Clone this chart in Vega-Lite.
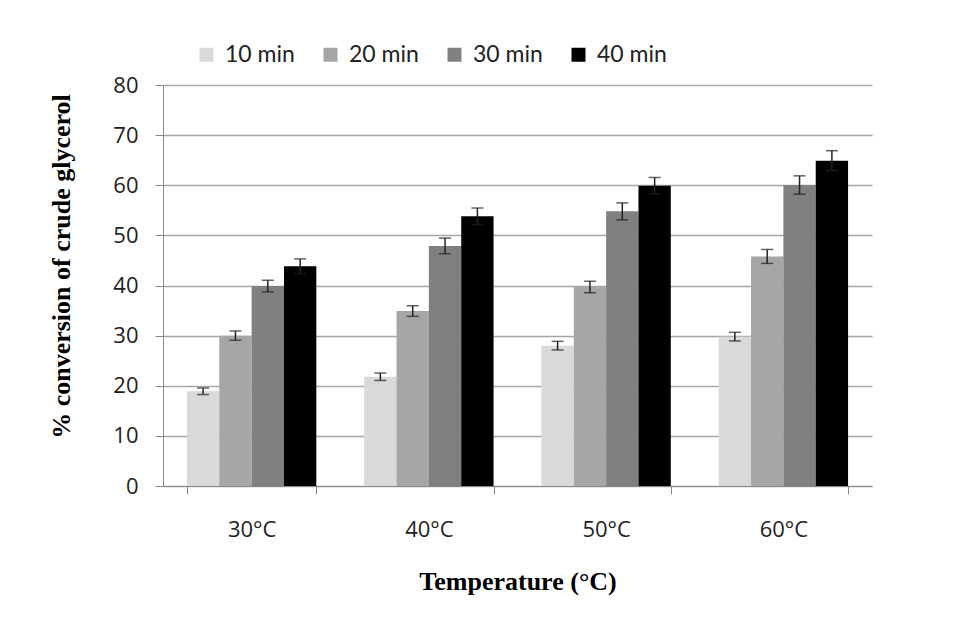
{
  "$schema": "https://vega.github.io/schema/vega-lite/v6.json",
  "autosize": {"type": "none"},
  "padding": {"left": 163, "top": 85, "right": 86, "bottom": 135},
  "width": 709,
  "height": 401,
  "background": "white",
  "config": {
    "view": {"stroke": null},
    "font": "Open Sans"
  },
  "data": {
    "values": [
      {"temp": "30°C", "time": "10 min", "value": 18.9, "err": 0.66},
      {"temp": "30°C", "time": "20 min", "value": 30.0, "err": 0.92},
      {"temp": "30°C", "time": "30 min", "value": 39.9, "err": 1.15},
      {"temp": "30°C", "time": "40 min", "value": 43.85, "err": 1.46},
      {"temp": "40°C", "time": "10 min", "value": 21.8, "err": 0.74},
      {"temp": "40°C", "time": "20 min", "value": 34.9, "err": 1.06},
      {"temp": "40°C", "time": "30 min", "value": 47.9, "err": 1.56},
      {"temp": "40°C", "time": "40 min", "value": 53.8, "err": 1.66},
      {"temp": "50°C", "time": "10 min", "value": 28.0, "err": 0.86},
      {"temp": "50°C", "time": "20 min", "value": 39.7, "err": 1.15},
      {"temp": "50°C", "time": "30 min", "value": 54.8, "err": 1.69},
      {"temp": "50°C", "time": "40 min", "value": 59.9, "err": 1.65},
      {"temp": "60°C", "time": "10 min", "value": 29.8, "err": 0.86},
      {"temp": "60°C", "time": "20 min", "value": 45.8, "err": 1.39},
      {"temp": "60°C", "time": "30 min", "value": 60.05, "err": 1.83},
      {"temp": "60°C", "time": "40 min", "value": 64.9, "err": 1.99}
    ]
  },
  "encoding": {
    "x": {
      "field": "temp",
      "type": "nominal",
      "sort": ["30°C", "40°C", "50°C", "60°C"],
      "scale": {"paddingInner": 0.27, "paddingOuter": 0.135},
      "axis": {
        "title": "Temperature (°C)",
        "titleFont": "Liberation Serif",
        "titleFontWeight": "bold",
        "titleFontSize": 26,
        "titleColor": "#000",
        "titlePadding": 28,
        "labelAngle": 0,
        "labelFontSize": 22,
        "labelColor": "#222",
        "labelPadding": 25,
        "tickBand": "extent",
        "tickSize": 8,
        "tickColor": "#888",
        "domainColor": "#888",
        "grid": false
      }
    },
    "xOffset": {
      "field": "time",
      "type": "nominal",
      "sort": ["10 min", "20 min", "30 min", "40 min"],
      "scale": {"paddingInner": 0, "paddingOuter": 0}
    }
  },
  "layer": [
    {
      "mark": {"type": "bar"},
      "encoding": {
        "y": {
          "field": "value",
          "type": "quantitative",
          "title": "% conversion of crude glycerol",
          "scale": {"domain": [0, 80]},
          "axis": {
            "titleFont": "Liberation Serif",
            "titleFontWeight": "bold",
            "titleFontSize": 26,
            "titleColor": "#000",
            "titlePadding": 38,
            "titleY": 181,
            "values": [0, 10, 20, 30, 40, 50, 60, 70, 80],
            "labelFontSize": 22,
            "labelColor": "#222",
            "labelPadding": 17,
            "tickSize": 8,
            "tickColor": "#888",
            "domainColor": "#888",
            "gridColor": "#a6a6a6",
            "gridWidth": 1.3
          }
        },
        "color": {
          "field": "time",
          "type": "nominal",
          "sort": ["10 min", "20 min", "30 min", "40 min"],
          "scale": {
            "domain": ["10 min", "20 min", "30 min", "40 min"],
            "range": ["#d9d9d9", "#a6a6a6", "#808080", "#000000"]
          },
          "legend": {
            "title": null,
            "orient": "none",
            "direction": "horizontal",
            "legendX": 32,
            "legendY": -42,
            "symbolType": "square",
            "symbolSize": 196,
            "symbolStrokeWidth": 0,
            "labelFont": "Lato",
            "labelFontSize": 23,
            "labelColor": "#222",
            "labelOffset": 7,
            "columnPadding": 24
          }
        }
      }
    },
    {
      "mark": {
        "type": "errorbar",
        "color": "#222",
        "thickness": 1.5,
        "ticks": {"size": 12, "thickness": 1.5, "color": "#222"}
      },
      "encoding": {
        "y": {"field": "value", "type": "quantitative", "title": "% conversion of crude glycerol"},
        "yError": {"field": "err"}
      }
    }
  ]
}
